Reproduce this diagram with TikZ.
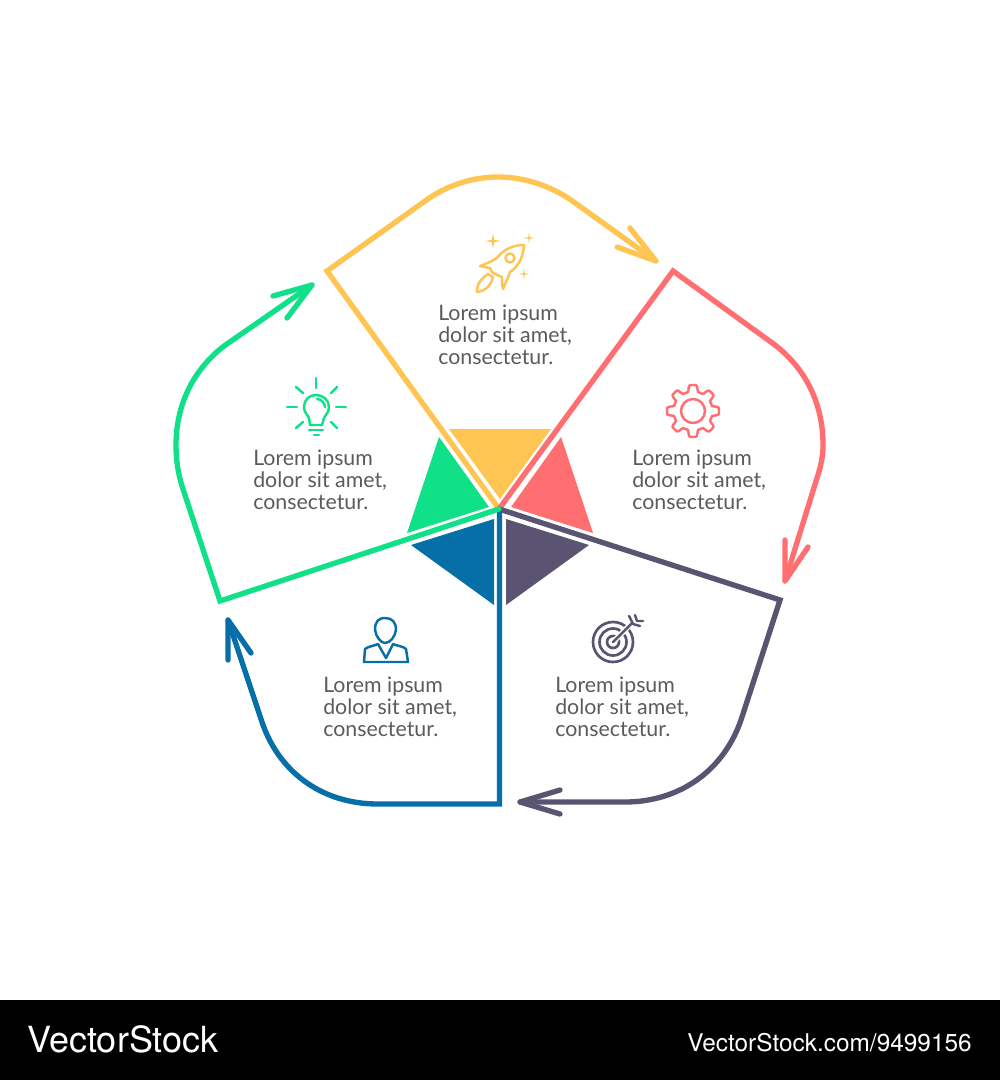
\documentclass[tikz,border=0pt]{standalone}
\usepackage{fontspec}
\setmainfont{Lato}
\newfontfamily\wmfont{TeX Gyre Heros}
\definecolor{cy}{HTML}{FEC552}
\definecolor{cr}{HTML}{FF6F72}
\definecolor{cg}{HTML}{10E188}
\definecolor{cb}{HTML}{066FA8}
\definecolor{cp}{HTML}{5A5372}
\definecolor{ct}{HTML}{5B5B5F}
\pgfmathdeclarefunction{gearrad}{1}{\pgfmathparse{19.5+6.5*(0.5-0.5*cos(180*max(0,min(1,0.5+0.8*cos(8*#1)))))}}
\newcommand{\mysparkle}[3]{\fill (#1,#2-#3) -- (#1+0.14*#3,#2-0.14*#3) -- (#1+#3,#2) -- (#1+0.14*#3,#2+0.14*#3) -- (#1,#2+#3) -- (#1-0.14*#3,#2+0.14*#3) -- (#1-#3,#2) -- (#1-0.14*#3,#2-0.14*#3) -- cycle;}
\tikzset{
  flow/.style={line width=4pt,line cap=round,miter limit=10},
  icon/.style={line width=1.85pt,line cap=round,line join=round},
  lorem/.style={inner sep=0pt,anchor=north west,align=left,text=ct,font=\fontsize{16}{16.5}\selectfont},
  wm/.style={inner sep=0pt,text=white,font=\wmfont}
}
\begin{document}
\begin{tikzpicture}[x=0.75pt,y=-0.75pt]
\useasboundingbox (0,0) rectangle (1000,1080);
\fill[white] (0,0) rectangle (1000,1000);
\fill[black] (0,1000) rectangle (1000,1080);
% central triangles
\fill[cy] (449,429) -- (551,429) -- (500,499) -- cycle;
\fill[cr] (561,437) -- (593,533) -- (511,507) -- cycle;
\fill[cg] (439,437) -- (407,533) -- (489,507) -- cycle;
\fill[cb] (411,545) -- (494,519) -- (494,605) -- cycle;
\fill[cp] (506,519) -- (506,605) -- (589,545) -- cycle;
% flows
\coordinate (hub) at (499,509);
\draw[flow,cy] (hub) -- (327,271) -- (425,201) .. controls (447,185) and (473,177) .. (498,177) .. controls (523,177) and (549,185) .. (571,200) -- (656,261);
\draw[flow,cy,line join=round] (630,228) -- (656,261) -- (617,247);
\draw[flow,cr] (hub) -- (673,271) -- (775,345) .. controls (807,370) and (823,405) .. (823,445) .. controls (823,456) and (821,466) .. (817,478) -- (785,581);
\draw[flow,cr,line join=round] (785,540) -- (785,581) -- (808,547);
\draw[flow,cp] (hub) -- (780,600) -- (742,717) .. controls (725,770) and (680,802) .. (625,802) -- (520,802);
\draw[flow,cp,line join=round] (560,790) -- (520,802) -- (560,814);
\draw[flow,cb] (499.5,511) -- (499.5,804) -- (378,804) .. controls (320,804) and (278,770) .. (262,722) -- (228,620);
\draw[flow,cb,line join=round] (228,660) -- (228,620) -- (251,653);
\draw[flow,cg] (hub) -- (220,601) -- (182,486) .. controls (178,473) and (176,460) .. (176,445) .. controls (176,405) and (193,370) .. (224,346) -- (312,285);
\draw[flow,cg,line join=round] (273,296) -- (312,285) -- (287,318);
% rocket
\begin{scope}[icon,cy]
\draw (524,245) .. controls (512,245) and (503,250) .. (497,258) .. controls (491,262) and (485,264) .. (480,266) -- (490,268) .. controls (491,271) and (492,272) .. (493,273) -- (502,277) .. controls (502,281) and (502,285) .. (503,289) .. controls (505,284) and (508,278) .. (510,272) .. controls (518,267) and (523,258) .. (524,245) -- cycle;
\draw (510,258) circle[radius=4.5];
\draw (477,292) .. controls (477,286) and (479,282) .. (482,279) .. controls (484,277) and (486,275) .. (488,274) -- (493,277) .. controls (491,285) and (486,291) .. (477,292) -- cycle;
\mysparkle{493}{241}{8}
\mysparkle{529}{238}{5.5}
\mysparkle{524}{274}{5.5}
\end{scope}
% bulb
\begin{scope}[icon,cg]
\draw (316,378) -- (316,388) (287,407) -- (297,407) (336,407) -- (346,407);
\draw (296,387) -- (303,393) (337,387) -- (331,393) (296,428) -- (303,422) (337,428) -- (331,422);
\draw (310,425) -- (309,418) .. controls (307,414) and (304,412) .. (304,407) .. controls (304,400) and (309,395) .. (316,395) .. controls (323,395) and (329,400) .. (329,407) .. controls (329,412) and (326,414) .. (324,418) -- (322,425) -- cycle;
\draw (317,399) .. controls (321,399) and (325,403) .. (325,407);
\draw (309,430) -- (323,430) (314,435) -- (319,435);
\end{scope}
% gear
\begin{scope}[icon,cr]
\draw plot[samples=181,domain=0:360] ({693+gearrad(\x)*cos(\x)},{411+gearrad(\x)*sin(\x)}) -- cycle;
\draw (693,411) circle[radius=12];
\end{scope}
% person
\begin{scope}[icon,cb]
\draw (385,618) .. controls (378,618) and (375,622) .. (375,630) .. controls (376,637) and (381,643) .. (385,643) .. controls (390,643) and (395,637) .. (396,630) .. controls (396,622) and (392,618) .. (385,618) -- cycle;
\draw (364,662) -- (365,649) .. controls (369,646) and (374,646) .. (378,644) -- (386,658) -- (393,644) .. controls (397,646) and (403,646) .. (406,649) -- (408,662) -- cycle;
\end{scope}
% target
\begin{scope}[icon,cp]
\draw[line width=2pt] (613,642) circle[radius=20];
\draw[line width=2pt] (613,642) circle[radius=13.5];
\draw[line width=2pt] (613,642) circle[radius=6];
\draw[white,line width=4pt] (614,641) -- (632,623);
\draw (613,642) -- (632,623);
\draw (629,616) -- (633,624) -- (640,626);
\draw (635,615) -- (637,621) -- (643,621);
\end{scope}
% labels
\node[lorem] (ly) at (438,305) {Lorem ipsum\\dolor sit amet,\\consectetur.};
\node[lorem] (lr) at (632,450) {Lorem ipsum\\dolor sit amet,\\consectetur.};
\node[lorem] (lg) at (253,450) {Lorem ipsum\\dolor sit amet,\\consectetur.};
\node[lorem] (lb) at (323,677) {Lorem ipsum\\dolor sit amet,\\consectetur.};
\node[lorem] (lp) at (555,677) {Lorem ipsum\\dolor sit amet,\\consectetur.};
% watermark
\node[wm,anchor=base west,font=\wmfont\fontsize{27}{27}\selectfont] (wm1) at (27,1052) {VectorStock};
\node[wm,anchor=base east,font=\wmfont\fontsize{18.3}{18}\selectfont] (wm2) at (972,1051) {VectorStock.com/9499156};
\end{tikzpicture}
\end{document}
